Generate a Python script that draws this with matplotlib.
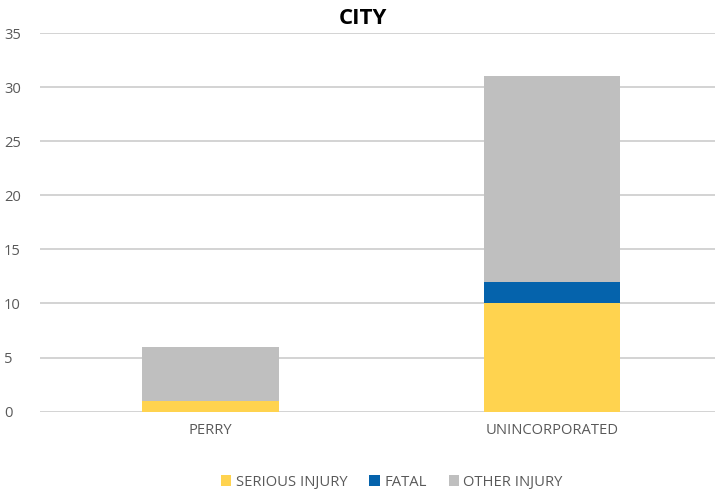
import matplotlib.pyplot as plt
import numpy as np

plt.rcParams['font.family'] = ['Open Sans', 'DejaVu Sans']

cities = ["PERRY", "UNINCORPORATED"]
serious = [1, 10]
fatal = [0, 2]
other = [5, 19]

colors = {"SERIOUS INJURY": "#FFD34F", "FATAL": "#0563AC", "OTHER INJURY": "#BFBFBF"}
txt = "#595959"

fig = plt.figure(figsize=(7.15, 4.93), dpi=100)
ax = fig.add_axes([0.056, 0.165, 0.955, 0.768])

x = np.arange(len(cities))
w = 0.40
b1 = np.array(serious)
b2 = b1 + np.array(fatal)
ax.bar(x, serious, w, color=colors["SERIOUS INJURY"], label="SERIOUS INJURY", zorder=3)
ax.bar(x, fatal, w, bottom=b1, color=colors["FATAL"], label="FATAL", zorder=3)
ax.bar(x, other, w, bottom=b2, color=colors["OTHER INJURY"], label="OTHER INJURY", zorder=3)

ax.set_xlim(-0.5, 1.5)
ax.set_ylim(0, 35)
ax.set_yticks(range(0, 36, 5))
ax.set_xticks(x)
ax.set_xticklabels(cities)
ax.grid(axis="y", color="#D0D0D0", linewidth=1.3, zorder=0)
for s in ax.spines.values():
    s.set_visible(False)
ax.tick_params(length=0, labelsize=10.6, labelcolor=txt)
ax.tick_params(axis="x", pad=8)
ax.tick_params(axis="y", pad=26)
for t in ax.get_yticklabels():
    t.set_horizontalalignment("left")

fig.text(0.508, 0.963, "CITY", ha="center", va="center", fontsize=16, fontweight="bold", color="black")

leg = fig.legend(loc="center", bbox_to_anchor=(0.548, 0.022), ncol=3, frameon=False,
                 fontsize=10.6, handlelength=0.7, handleheight=0.7, handletextpad=0.3,
                 columnspacing=1.5, labelcolor=txt)

fig.savefig("out.png", dpi=100)
